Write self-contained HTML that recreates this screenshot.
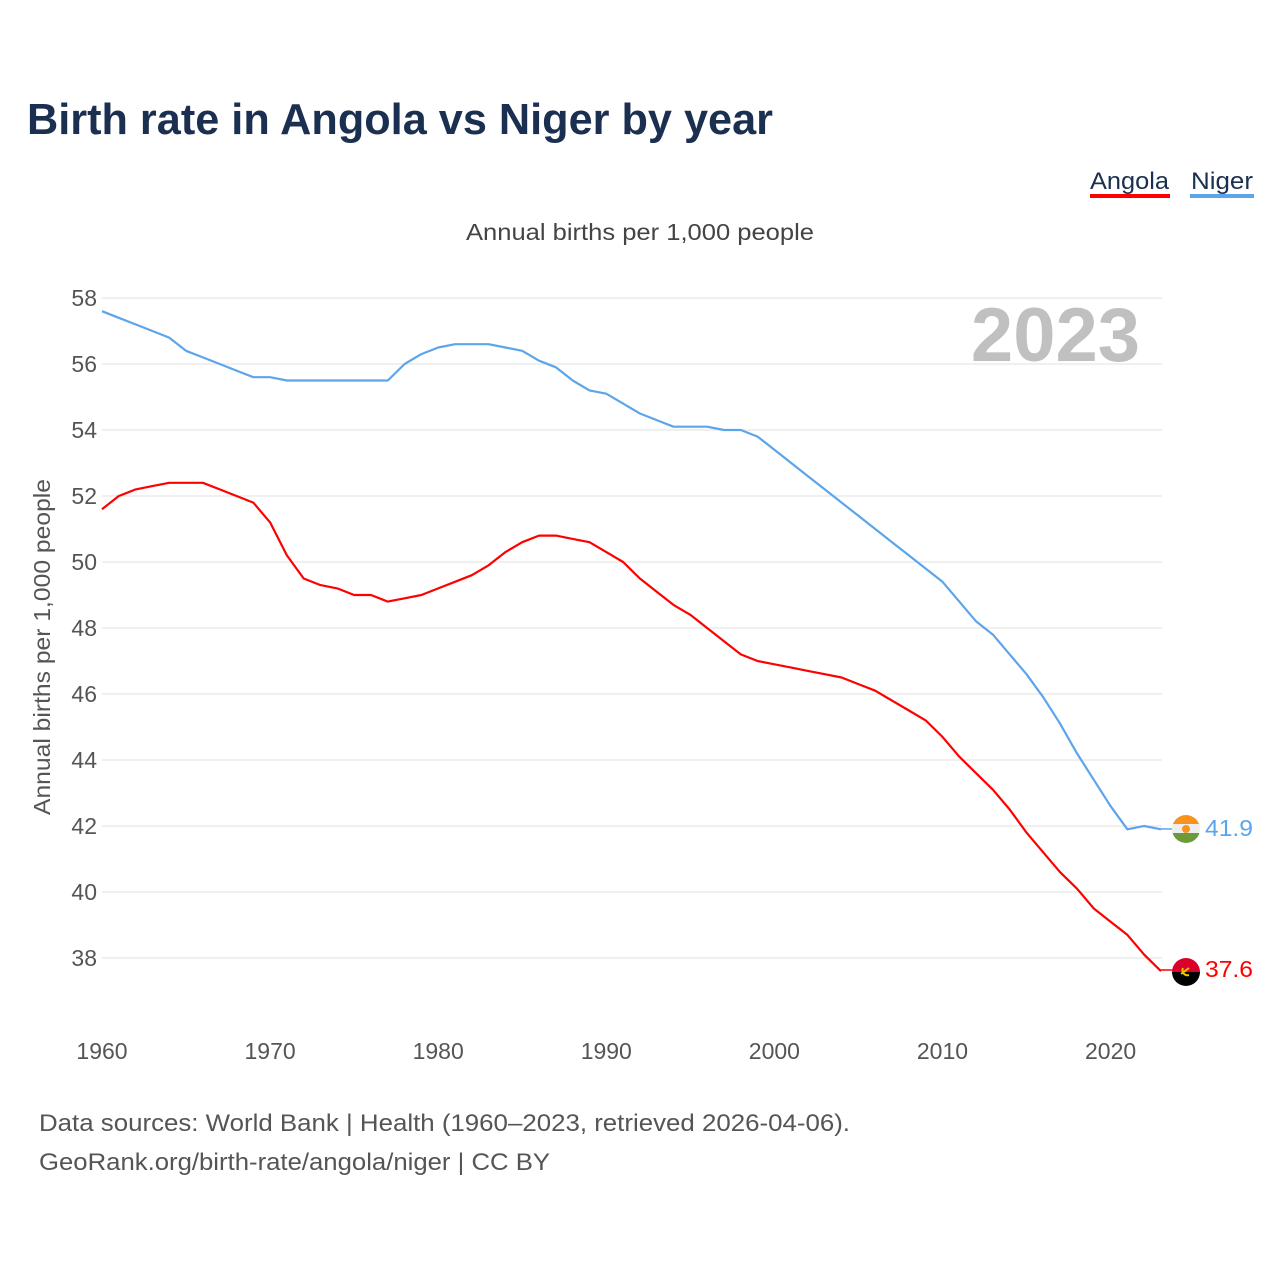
<!DOCTYPE html>
<html><head><meta charset="utf-8"><style>
body{margin:0;background:#fff;width:1280px;height:1280px;overflow:hidden;font-family:"Liberation Sans",sans-serif}
</style></head><body>
<svg id="chart" width="1280" height="1280" xmlns="http://www.w3.org/2000/svg" font-family="Liberation Sans, sans-serif">
<text x="27" y="134" font-size="44" font-weight="bold" fill="#1b3050" textLength="746" lengthAdjust="spacingAndGlyphs">Birth rate in Angola vs Niger by year</text>
<g>
<text x="1090" y="189" font-size="24" fill="#1b3050" textLength="79" lengthAdjust="spacingAndGlyphs">Angola</text>
<rect x="1090" y="194" width="80" height="4" fill="#ff0000"/>
<text x="1191" y="189" font-size="24" fill="#1b3050" textLength="62" lengthAdjust="spacingAndGlyphs">Niger</text>
<rect x="1190" y="194" width="64" height="4" fill="#5da5ea"/>
</g>
<text x="466" y="240" font-size="23" fill="#444" textLength="348" lengthAdjust="spacingAndGlyphs">Annual births per 1,000 people</text>
<text x="1140" y="361" font-size="76" font-weight="bold" fill="#c0c0c0" text-anchor="end">2023</text>
<text transform="translate(50,815) rotate(-90)" font-size="23" fill="#555" textLength="336" lengthAdjust="spacingAndGlyphs">Annual births per 1,000 people</text>
<g id="grid"></g><g id="yticks"></g><g id="xticks"></g><g id="lines"></g>
<g>
<line x1="1161" y1="829" x2="1172" y2="829" stroke="#5da5ea" stroke-width="1.5"/>
<line x1="1161" y1="970" x2="1172" y2="970" stroke="#ff0000" stroke-width="1.5"/>
<g>
<clipPath id="cn"><circle cx="1186" cy="829" r="14"/></clipPath>
<g clip-path="url(#cn)"><rect x="1172" y="815" width="28" height="10" fill="#f7931e"/><rect x="1172" y="824" width="28" height="10" fill="#eee"/><rect x="1172" y="833" width="28" height="10" fill="#6a9a3a"/><circle cx="1186" cy="829" r="4" fill="#f7931e"/></g></g>
<text x="1205" y="836" font-size="23" fill="#5da5ea" textLength="48" lengthAdjust="spacingAndGlyphs">41.9</text>
<g>
<clipPath id="ca"><circle cx="1186" cy="972" r="14"/></clipPath>
<g clip-path="url(#ca)"><rect x="1172" y="958" width="28" height="14" fill="#d9002b"/><rect x="1172" y="972" width="28" height="14" fill="#000"/><path d="M1181 974 l8 -6 M1183 968 a5 5 0 0 0 6 7" stroke="#f5c200" stroke-width="2" fill="none"/></g></g>
<text x="1205" y="977" font-size="23" fill="#ff0000" textLength="48" lengthAdjust="spacingAndGlyphs">37.6</text>
</g>
<text x="39" y="1131" font-size="24" fill="#555" textLength="811" lengthAdjust="spacingAndGlyphs">Data sources: World Bank | Health (1960–2023, retrieved 2026-04-06).</text>
<text x="39" y="1170" font-size="24" fill="#555" textLength="511" lengthAdjust="spacingAndGlyphs">GeoRank.org/birth-rate/angola/niger | CC BY</text>
</svg>
<script>
const years=[];for(let y=1960;y<=2023;y++)years.push(y);
const niger=[57.6,57.4,57.2,57.0,56.8,56.4,56.2,56.0,55.8,55.6,55.6,55.5,55.5,55.5,55.5,55.5,55.5,55.5,56.0,56.3,56.5,56.6,56.6,56.6,56.5,56.4,56.1,55.9,55.5,55.2,55.1,54.8,54.5,54.3,54.1,54.1,54.1,54.0,54.0,53.8,53.4,53.0,52.6,52.2,51.8,51.4,51.0,50.6,50.2,49.8,49.4,48.8,48.2,47.8,47.2,46.6,45.9,45.1,44.2,43.4,42.6,41.9,42.0,41.9];
const angola=[51.6,52.0,52.2,52.3,52.4,52.4,52.4,52.2,52.0,51.8,51.2,50.2,49.5,49.3,49.2,49.0,49.0,48.8,48.9,49.0,49.2,49.4,49.6,49.9,50.3,50.6,50.8,50.8,50.7,50.6,50.3,50.0,49.5,49.1,48.7,48.4,48.0,47.6,47.2,47.0,46.9,46.8,46.7,46.6,46.5,46.3,46.1,45.8,45.5,45.2,44.7,44.1,43.6,43.1,42.5,41.8,41.2,40.6,40.1,39.5,39.1,38.7,38.1,37.6];
const yTicks=[58,56,54,52,50,48,46,44,42,40,38];
const xTicks=[1960,1970,1980,1990,2000,2010,2020];
const X=v=>102+(v-1960)*(1161-102)/63;
const Y=v=>298+(58-v)*33;
const NS="http://www.w3.org/2000/svg";
function mk(tag,parent,attrs){const e=document.createElementNS(NS,tag);for(const k in attrs)e.setAttribute(k,attrs[k]);document.getElementById(parent).appendChild(e);return e;}
yTicks.forEach(t=>{
 const l=mk('line','grid',{x1:102,x2:1162,y1:Y(t),y2:Y(t),stroke:'#e6e6e6','stroke-width':1.2});
 
 
 const tx=mk('text','yticks',{x:97,y:Y(t)+8,'font-size':23,fill:'#555','text-anchor':'end'});
 tx.textContent=t;
 
 
});
xTicks.forEach(t=>{
 const tx=mk('text','xticks',{x:X(t),y:1059,'font-size':23,fill:'#555','text-anchor':'middle'});
 tx.textContent=t;
 
 
});
function line(vals,color,name){
 const d=vals.map((v,i)=>(i?'L':'M')+X(years[i]).toFixed(1)+' '+Y(v).toFixed(1)).join(' ');
 const p=mk('path','lines',{d:d,fill:'none',stroke:color,'stroke-width':2.2,'stroke-linejoin':'round'});
 
 
}
line(niger,'#5da5ea','niger-line');
line(angola,'#ff0000','angola-line');
</script>
</body></html>
